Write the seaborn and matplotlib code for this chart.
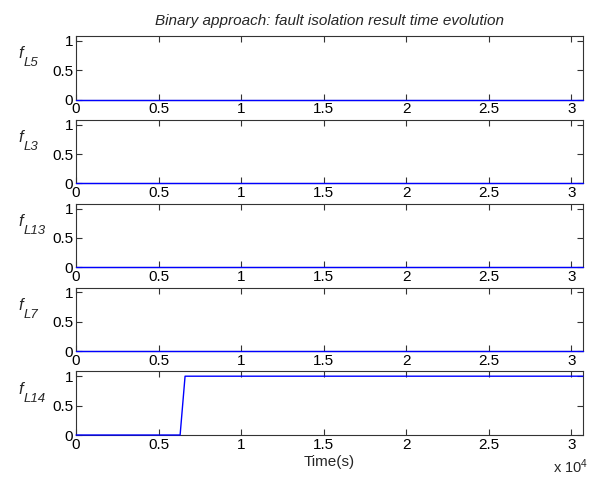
import matplotlib
matplotlib.use("Agg")
import matplotlib.pyplot as plt
import seaborn as sns
import pandas as pd

# time samples (s) and binary isolation results
time = [0, 6300, 6600, 30700]
f_L5 = [0, 0, 0, 0]
f_L3 = [0, 0, 0, 0]
f_L13 = [0, 0, 0, 0]
f_L7 = [0, 0, 0, 0]
f_L14 = [0, 0, 1, 1]

names = ["L5", "L3", "L13", "L7", "L14"]
series = [f_L5, f_L3, f_L13, f_L7, f_L14]
xticks = [0, 5000, 10000, 15000, 20000, 25000, 30000]
xticklabels = ["0", "0.5", "1", "1.5", "2", "2.5", "3"]
yticks = [0, 0.5, 1]
yticklabels = ["0", "0.5", "1"]

sns.set_style("ticks")
plt.rcParams["font.family"] = ["Liberation Sans", "DejaVu Sans"]
plt.rcParams["mathtext.fontset"] = "custom"
plt.rcParams["mathtext.it"] = "Liberation Sans:italic"
plt.rcParams["mathtext.rm"] = "Liberation Sans"

fig, axes = plt.subplots(5, 1, figsize=(5.9, 4.82), dpi=100)
fig.subplots_adjust(left=0.129, right=0.988, top=0.925, bottom=0.0975, hspace=0.32)

for ax, name, vals in zip(axes, names, series):
    df = pd.DataFrame({"t": time, "f": vals})
    sns.lineplot(data=df, x="t", y="f", ax=ax, color="#0000ff", linewidth=1.0)
    for ln in ax.lines:
        ln.set_zorder(3)
        ln.set_clip_on(False)
    ax.set_xlim(0, 30700)
    ax.set_ylim(0, 1.08)
    ax.set_xticks(xticks)
    ax.set_xticklabels(xticklabels)
    ax.set_yticks(yticks)
    ax.set_yticklabels(yticklabels)
    ax.tick_params(direction="in", top=True, right=True, length=4, width=0.8,
                   labelsize=11, pad=2, colors="#333333", labelcolor="black")
    for sp in ax.spines.values():
        sp.set_visible(True)
        sp.set_color("#333333")
        sp.set_linewidth(0.8)
    ax.set_xlabel("")
    ax.set_ylabel("")
    # MATLAB style label f_{Lxx}, subscript set well below the f
    ax.text(-0.114, 0.72, "f", transform=ax.transAxes, fontsize=12,
            style="italic", ha="left", va="center")
    ax.text(-0.104, 0.57, name, transform=ax.transAxes, fontsize=9.5,
            style="italic", ha="left", va="center")

axes[0].set_title("Binary approach: fault isolation result time evolution",
                  fontsize=11, style="italic", pad=8)
axes[-1].set_xlabel("Time(s)", fontsize=11, labelpad=2)
fig.text(0.938, 0.012, r"x 10$^{4}$", fontsize=10.5, ha="left", va="bottom")

fig.savefig("out.png", dpi=100)
